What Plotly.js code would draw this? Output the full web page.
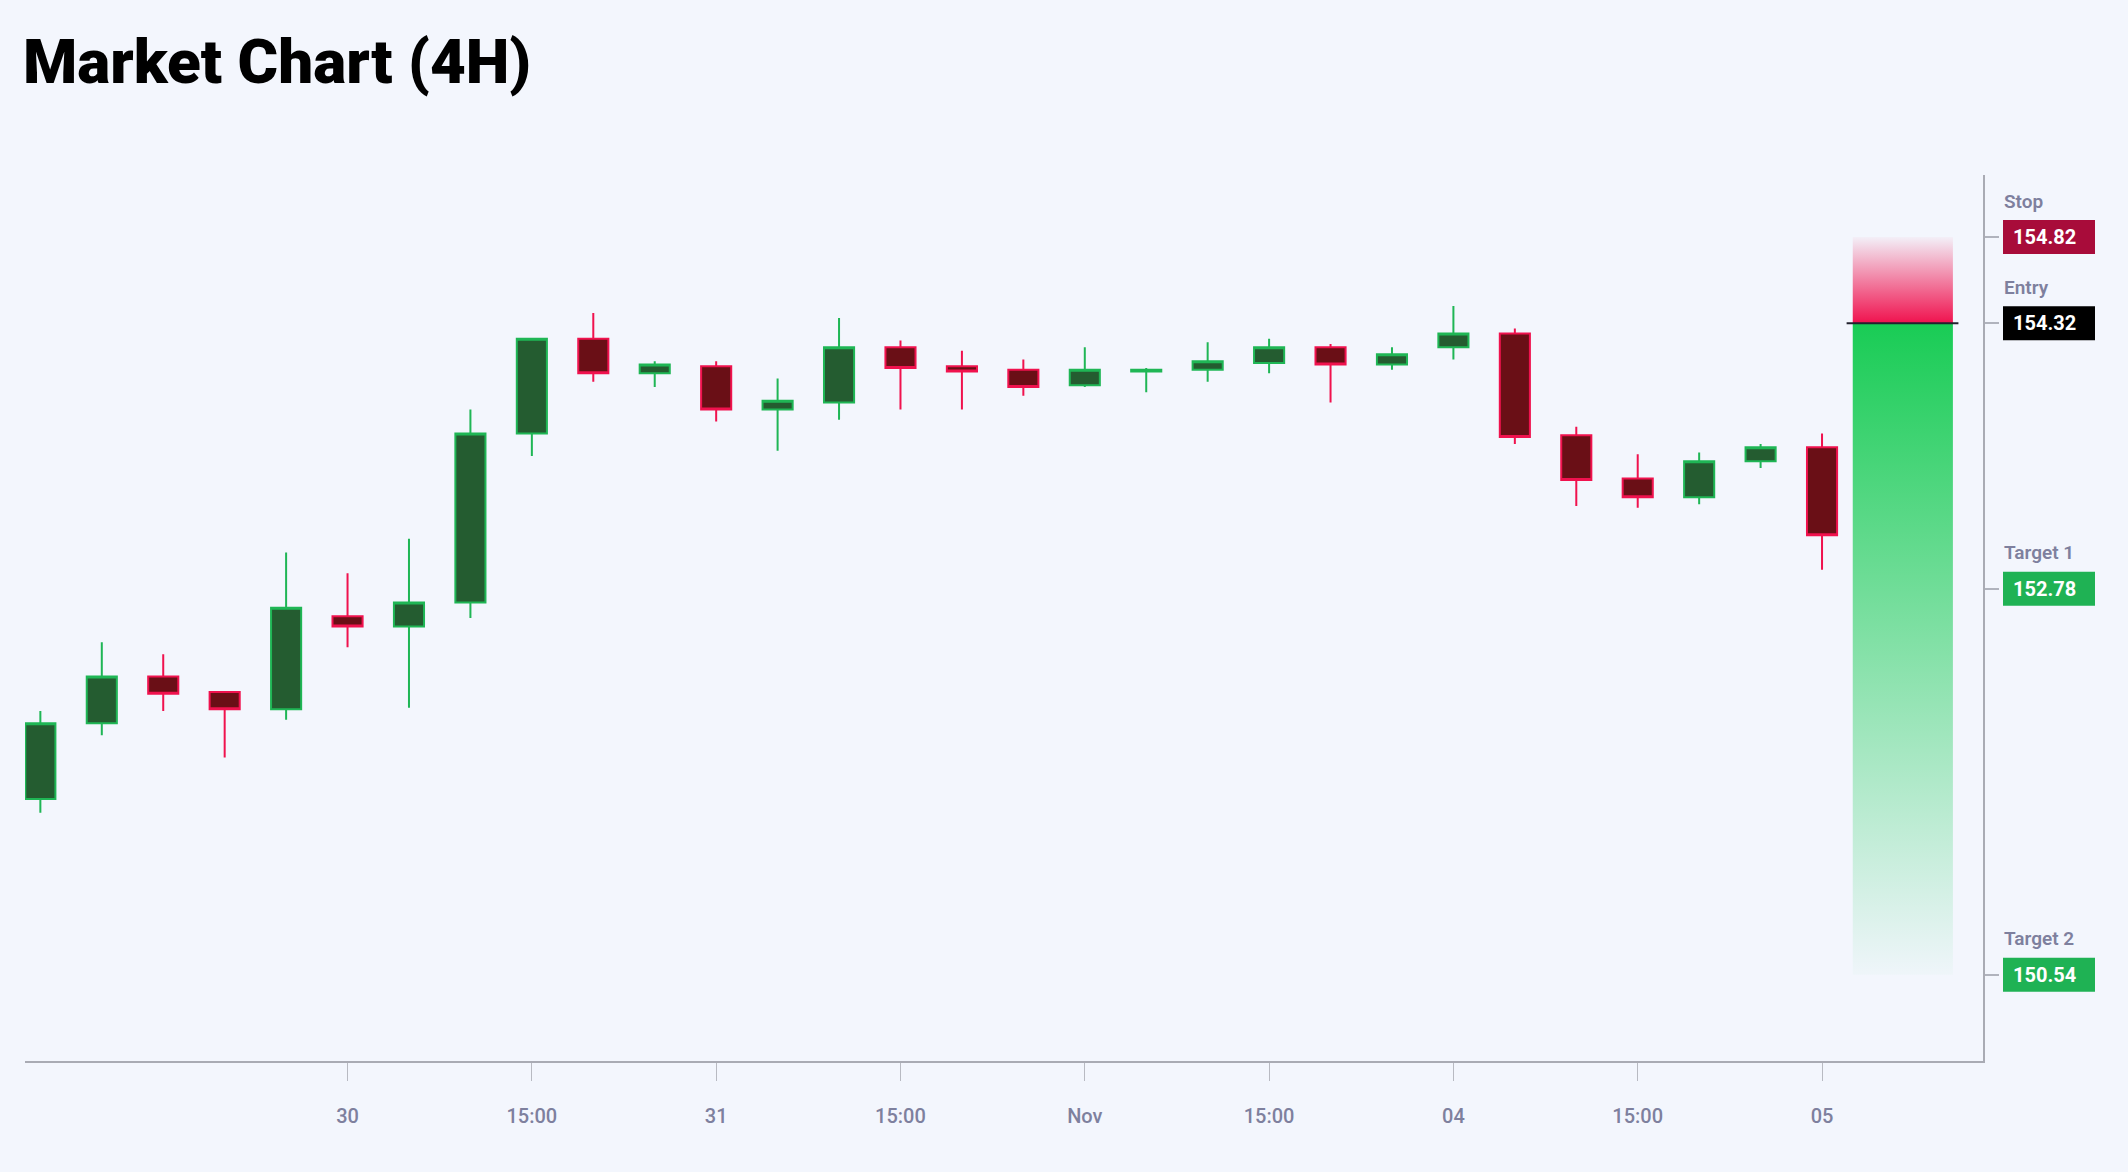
<!DOCTYPE html>
<html>
<head>
<meta charset="utf-8">
<script src="https://cdn.plot.ly/plotly-3.0.1.min.js"></script>
<style>
  html, body { margin: 0; padding: 0; background: #f3f6fd; }
  #chart { width: 2128px; height: 1172px; }
</style>
</head>
<body>
<div id="chart"></div>
<script>
// ---- data ----
const times = [
  '2024-10-29 07:00','2024-10-29 11:00','2024-10-29 15:00','2024-10-29 19:00','2024-10-29 23:00',
  '2024-10-30 03:00','2024-10-30 07:00','2024-10-30 11:00','2024-10-30 15:00','2024-10-30 19:00','2024-10-30 23:00',
  '2024-10-31 03:00','2024-10-31 07:00','2024-10-31 11:00','2024-10-31 15:00','2024-10-31 19:00','2024-10-31 23:00',
  '2024-11-01 03:00','2024-11-01 07:00','2024-11-01 11:00','2024-11-01 15:00','2024-11-01 19:00','2024-11-01 23:00',
  '2024-11-04 03:00','2024-11-04 07:00','2024-11-04 11:00','2024-11-04 15:00','2024-11-04 19:00','2024-11-04 23:00',
  '2024-11-05 03:00'
];
const openP  = [151.56,152.00,152.27,152.18,152.08,152.62,152.56,152.70,153.68,154.23,154.03,154.07,153.82,153.86,154.18,154.07,154.05,153.96,154.04,154.05,154.09,154.18,154.08,154.18,154.26,153.67,153.42,153.31,153.52,153.60];
const highP  = [152.07,152.47,152.40,152.18,152.99,152.87,153.07,153.82,154.23,154.38,154.10,154.10,154.00,154.35,154.22,154.16,154.11,154.18,154.06,154.21,154.23,154.20,154.18,154.42,154.29,153.72,153.56,153.57,153.62,153.68];
const lowP   = [151.48,151.93,152.07,151.80,152.02,152.44,152.09,152.61,153.55,153.98,153.95,153.75,153.58,153.76,153.82,153.82,153.90,153.95,153.92,153.98,154.03,153.86,154.05,154.11,153.62,153.26,153.25,153.27,153.48,152.89];
const closeP = [152.00,152.27,152.17,152.08,152.67,152.56,152.70,153.68,154.23,154.03,154.08,153.82,153.87,154.18,154.06,154.04,153.95,154.05,154.05,154.10,154.18,154.08,154.14,154.26,153.66,153.41,153.31,153.52,153.60,153.09];

const tickTimes  = ['2024-10-30 03:00','2024-10-30 15:00','2024-10-31 03:00','2024-10-31 15:00','2024-11-01 03:00','2024-11-01 15:00','2024-11-04 03:00','2024-11-04 15:00','2024-11-05 03:00'];
const tickLabels = ['30','15:00','31','15:00','Nov','15:00','04','15:00','05'];

const levelNames  = ['Stop','Entry','Target 1','Target 2'];
const levelPrices = [154.82, 154.32, 152.78, 150.54];

// ---- styles ----
const BG = '#f3f6fd';
const AXIS = '#a9abb4';
const LABEL = '#7e809e';
const levelColors = ['#a80c3a', '#000000', '#1fb254', '#1fb254'];

const idx = times.map((t, i) => i);
const stop = levelPrices[0], entry = levelPrices[1], target2 = levelPrices[3];
const boxX0 = idx[idx.length - 1] + 0.5, boxX1 = idx[idx.length - 1] + 2.13;

const candles = {
  type: 'candlestick',
  x: idx, open: openP, high: highP, low: lowP, close: closeP,
  increasing: { line: { color: '#1fb655', width: 2 }, fillcolor: '#245c30' },
  decreasing: { line: { color: '#f0124e', width: 2 }, fillcolor: '#6a0f16' },
  whiskerwidth: 0,
  hoverinfo: 'skip',
  showlegend: false
};

const riskBox = {
  type: 'scatter', mode: 'lines',
  x: [boxX0, boxX1, boxX1, boxX0, boxX0],
  y: [entry, entry, stop, stop, entry],
  fill: 'toself',
  line: { width: 0 },
  fillgradient: {
    type: 'vertical', start: entry, stop: stop,
    colorscale: [[0, 'rgba(240,18,78,1)'], [1, 'rgba(240,18,78,0.03)']]
  },
  hoverinfo: 'skip', showlegend: false
};

const rewardBox = {
  type: 'scatter', mode: 'lines',
  x: [boxX0, boxX1, boxX1, boxX0, boxX0],
  y: [target2, target2, entry, entry, target2],
  fill: 'toself',
  line: { width: 0 },
  fillgradient: {
    type: 'vertical', start: target2, stop: entry,
    colorscale: [[0, 'rgba(25,204,85,0.02)'], [1, 'rgba(25,204,85,1)']]
  },
  hoverinfo: 'skip', showlegend: false
};

const shapes = [
  { type: 'line', xref: 'x', yref: 'y', x0: boxX0 - 0.1, x1: boxX1 + 0.09, y0: entry, y1: entry,
    line: { color: '#22222e', width: 2 } }
];
const annotations = [];
levelPrices.forEach((p, i) => {
  shapes.push({
    type: 'rect', xref: 'paper', yref: 'y', xsizemode: 'pixel', ysizemode: 'pixel',
    xanchor: 1, yanchor: p, x0: 20, x1: 112, y0: -17, y1: 17,
    fillcolor: levelColors[i], line: { width: 0 }
  });
  annotations.push({
    xref: 'paper', yref: 'y', x: 1, y: p, xanchor: 'left', yanchor: 'middle',
    xshift: 28, showarrow: false, text: p.toFixed(2),
    font: { family: 'Roboto', size: 20, color: '#ffffff', weight: 700 }
  });
  annotations.push({
    xref: 'paper', yref: 'y', x: 1, y: p, xanchor: 'left', yanchor: 'middle',
    xshift: 19, yshift: 36, showarrow: false, text: levelNames[i],
    font: { family: 'Roboto', size: 19, color: LABEL, weight: 600 }
  });
});

const layout = {
  width: 2128, height: 1172,
  paper_bgcolor: BG, plot_bgcolor: BG,
  margin: { l: 25, r: 145, t: 175, b: 111 },
  title: {
    text: 'Market Chart (4H)',
    font: { family: 'Roboto', size: 62, color: '#000000', weight: 900 },
    xref: 'container', yref: 'container',
    x: 23 / 2128, xanchor: 'left',
    y: 1 - 61 / 1172, yanchor: 'middle'
  },
  showlegend: false,
  xaxis: {
    type: 'linear',
    range: [-0.25, 31.62],
    rangeslider: { visible: false },
    showgrid: false, zeroline: false,
    showline: true, linecolor: AXIS, linewidth: 2,
    ticks: 'outside', ticklen: 18, tickwidth: 1, tickcolor: '#b8bac2',
    tickvals: tickTimes.map(t => times.indexOf(t)),
    ticktext: tickLabels,
    ticklabelstandoff: 18,
    tickfont: { family: 'Roboto', size: 20, color: LABEL, weight: 500 },
    fixedrange: true
  },
  yaxis: {
    side: 'right',
    range: [150.04, 155.18],
    showgrid: false, zeroline: false,
    showline: true, linecolor: AXIS, linewidth: 2,
    ticks: 'outside', ticklen: 14, tickwidth: 2, tickcolor: '#b0b3bd',
    tickvals: levelPrices,
    showticklabels: false,
    fixedrange: true
  },
  shapes: shapes,
  annotations: annotations,
  hovermode: false
};

Plotly.newPlot('chart', [rewardBox, riskBox, candles], layout, { displayModeBar: false, staticPlot: true });
</script>
</body>
</html>
